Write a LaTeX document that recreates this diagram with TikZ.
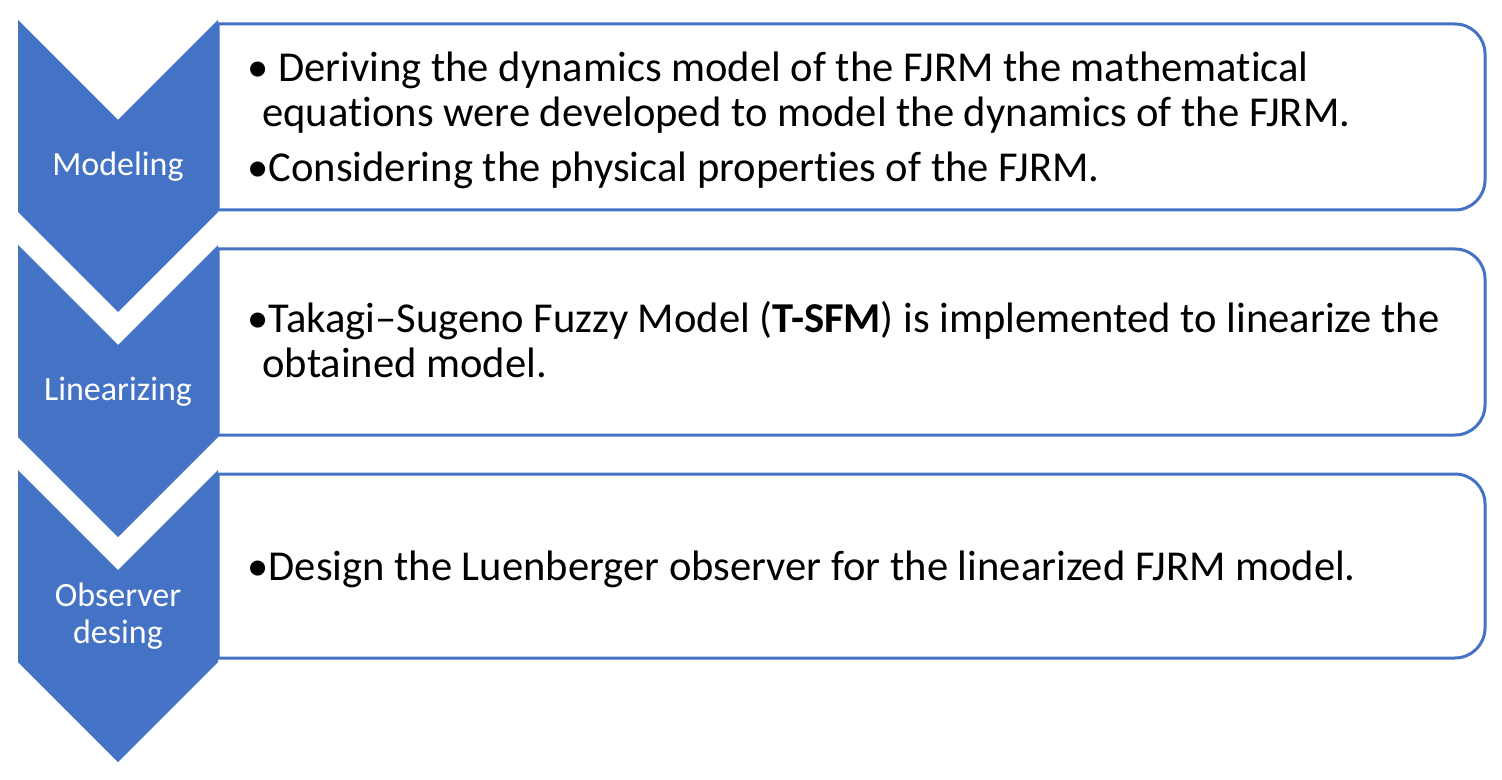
\documentclass[tikz,border=0pt]{standalone}
\usepackage{fontspec}
\setmainfont{Carlito}[Ligatures=NoCommon]
\usetikzlibrary{positioning}
\definecolor{chevblue}{RGB}{68,114,196}
\tikzset{
  chevron/.style={fill=chevblue,draw=none},
  stage/.style={text=white,font=\fontsize{17}{18.5}\selectfont,align=center,inner sep=0pt},
  item/.style={anchor=base west,inner sep=0pt,font=\fontsize{21.3}{22.5}\selectfont},
  panel/.style={draw=chevblue,line width=1.5pt},
}
\begin{document}
\begin{tikzpicture}[x=0.5pt,y=-0.5pt]
\useasboundingbox (0,0) rectangle (1502,780);

% stage chevrons
\foreach \t in {20,245,470}
{
   \fill[chevron] (18,\t) -- (118,\t+100) -- (218,\t) -- (218,\t+192) -- (118,\t+292) -- (18,\t+192) -- cycle;
}

% panels
\coordinate (p1nw) at (218,24);  \coordinate (p1se) at (1485,210);
\coordinate (p2nw) at (218,249); \coordinate (p2se) at (1485,435);
\coordinate (p3nw) at (218,474); \coordinate (p3se) at (1485,658);
\foreach \p in {p1,p2,p3}
{
   \draw[panel] (\p se -| \p nw) -- (\p nw) [rounded corners=15pt] -- (\p nw -| \p se) -- (\p se) [sharp corners] -- (\p se -| \p nw);
}

% stage names
\node[stage] (modeling) at (118,167) {Modeling};
\node[stage] (linearizing) at (118,392) {Linearizing};
\node[stage] (observer) at (118,616) {Observer\\desing};

% panel texts
\node[item] (derive1) at (247,82) {\textbullet\ Deriving the dynamics model of the FJRM the mathematical};
\node[item] (derive2) at (262,127) {equations were developed to model the dynamics of the FJRM.};
\node[item] (consider) at (247,182) {\textbullet Considering the physical properties of the FJRM.};
\node[item] (tsfm1) at (247,332) {\textbullet Takagi--Sugeno Fuzzy Model (\textbf{T-SFM}) is implemented to linearize the};
\node[item] (tsfm2) at (262,377) {obtained model.};
\node[item] (design) at (247,580) {\textbullet Design the Luenberger observer for the linearized FJRM model.};
\end{tikzpicture}
\end{document}
